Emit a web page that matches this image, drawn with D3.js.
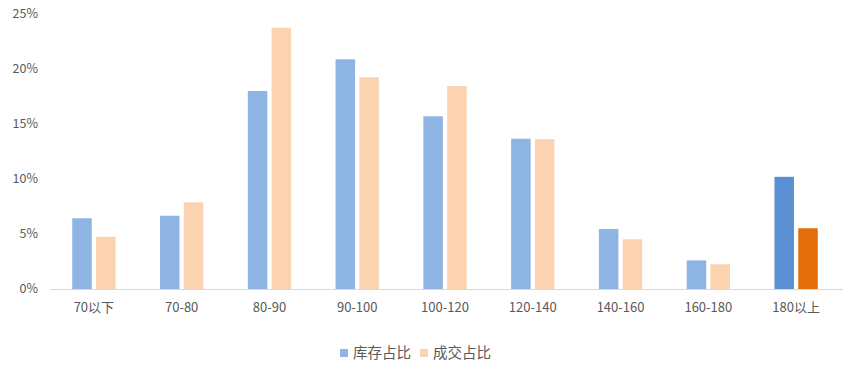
<!DOCTYPE html>
<html>
<head>
<meta charset="utf-8">
<script src="https://cdn.jsdelivr.net/npm/d3@7"></script>
<style>
  body { margin: 0; background: #fff; }
  text { font-family: "Noto Sans CJK SC", "Microsoft YaHei", sans-serif; fill: #595959; }
</style>
</head>
<body>
<div id="chart"></div>
<script>
// Datos
const categories = ["70以下", "70-80", "80-90", "90-100", "100-120", "120-140", "140-160", "160-180", "180以上"];
const seriesNames = ["库存占比", "成交占比"];
const stockShare = [6.43, 6.66, 18.0, 20.88, 15.7, 13.66, 5.45, 2.6, 10.2];
const dealShare = [4.75, 7.88, 23.75, 19.25, 18.45, 13.62, 4.52, 2.25, 5.52];
const yTicks = [0, 5, 10, 15, 20, 25];

const width = 858, height = 380;
const colors = ["#8eb4e3", "#fcd3b1"];
const lastColors = ["#5b8fd4", "#e46c0a"];

const svg = d3.select("#chart").append("svg")
    .attr("width", width)
    .attr("height", height);

const x = d3.scaleBand().domain(categories).range([50, 840]);
const y = d3.scaleLinear().domain([0, 25]).range([289, 14]);
const barW = 19.5, gap = 4.3;

// Eje Y (solo etiquetas)
svg.append("g")
    .selectAll("text")
    .data(yTicks)
    .enter().append("text")
    .attr("x", 38)
    .attr("y", d => y(d))
    .attr("dy", "0.35em")
    .attr("text-anchor", "end")
    .style("font-size", "12.5px")
    .text(d => d + "%");

// Barras
const groups = svg.append("g").selectAll("g")
    .data(categories)
    .enter().append("g");

[stockShare, dealShare].forEach((vals, s) => {
    groups.append("rect")
        .attr("x", (d, i) => x(d) + x.bandwidth() / 2 - barW - gap / 2 + s * (barW + gap))
        .attr("y", (d, i) => y(vals[i]))
        .attr("width", barW)
        .attr("height", (d, i) => y(0) - y(vals[i]))
        .attr("fill", (d, i) => i === categories.length - 1 ? lastColors[s] : colors[s]);
});

// Linea base
svg.append("line")
    .attr("x1", 50).attr("x2", 843)
    .attr("y1", y(0) + 0.5).attr("y2", y(0) + 0.5)
    .attr("stroke", "#d9d9d9")
    .attr("stroke-width", 1);

// Eje X (etiquetas)
svg.append("g")
    .selectAll("text")
    .data(categories)
    .enter().append("text")
    .attr("x", d => x(d) + x.bandwidth() / 2)
    .attr("y", 312)
    .attr("text-anchor", "middle")
    .style("font-size", "13px")
    .text(d => d);

// Leyenda
const legend = svg.append("g");
const legendX = [340, 420];
seriesNames.forEach((name, s) => {
    legend.append("rect")
        .attr("x", legendX[s]).attr("y", 349)
        .attr("width", 8).attr("height", 8)
        .attr("fill", colors[s]);
    legend.append("text")
        .attr("x", legendX[s] + 13).attr("y", 353)
        .attr("dy", "0.35em")
        .style("font-size", "14.5px")
        .text(name);
});
</script>
</body>
</html>
